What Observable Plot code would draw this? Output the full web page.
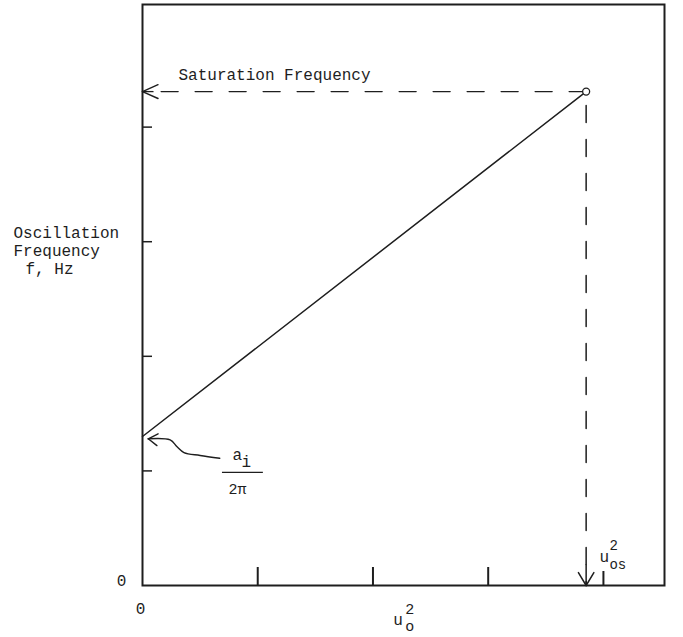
<!DOCTYPE html>
<html>
<head>
<meta charset="utf-8">
<script src="https://cdn.jsdelivr.net/npm/d3@7"></script>
<script src="https://cdn.jsdelivr.net/npm/@observablehq/plot@0.6"></script>
<style>
  html, body { margin: 0; padding: 0; background: #fff; }
  #chart svg { display: block; }
</style>
</head>
<body>
<div id="chart"></div>
<script>
// Oscillation frequency f against u_o^2: linear rise from a_i/2π to the saturation frequency at u_os^2

// axis ticks (unlabelled except for the origin)
const xTicks = [1, 2, 3];
const xTickOs = [4];
const yTicks = [1, 2, 3, 4];

// key values
const uSat = 3.85;     // u_os^2
const fStart = 1.30;   // a_i / 2π
const fSat = 4.31;     // saturation frequency

// the frequency line
const lineU = [0, uSat];
const lineF = [fStart, fSat];

// curved leader from the a_i/2π label to the intercept
const leaderU = [0.05, 0.24, 0.30, 0.36, 0.50, 0.67];
const leaderF = [1.28, 1.27, 1.21, 1.16, 1.135, 1.11];

const xDomain = [0, 4.53];
const yDomain = [0, 5.07];

const ink = "#1e1e1e";
const mono = "'Liberation Mono', 'DejaVu Sans Mono', monospace";

const line = lineU.map((u, i) => ({u, f: lineF[i]}));
const leader = leaderU.map((u, i) => ({u, f: leaderF[i]}));

// a straight stroke drawn from the anchor point; used for arrowhead wings
const wing = {draw(context, l) { context.moveTo(0, 0); context.lineTo(0, -l); }};
function arrowHead(u, f, angles, length, strokeWidth) {
  return Plot.vector(angles.map((a) => ({u, f, a})), {
    x: "u", y: "f", rotate: "a", length, anchor: "start", shape: wing,
    stroke: ink, strokeWidth, strokeLinecap: "round"
  });
}

const chart = Plot.plot({
  width: 683,
  height: 637,
  marginLeft: 142,
  marginRight: 19,
  marginTop: 4,
  marginBottom: 52,
  x: {domain: xDomain},
  y: {domain: yDomain},
  style: {fontFamily: mono, fontSize: "16px", color: ink, background: "#fff"},
  marks: [
    Plot.frame({stroke: ink, strokeWidth: 2}),

    // inward ticks
    Plot.axisX({ticks: xTicks, tickSize: -18, strokeWidth: 2, tickFormat: () => "", label: null}),
    Plot.axisX({ticks: xTickOs, tickSize: -14, strokeWidth: 2, tickFormat: () => "", label: null}),
    Plot.axisY({ticks: yTicks, tickSize: -10, strokeWidth: 1.5, tickFormat: () => "", label: null}),

    // origin labels
    Plot.text(["0"], {x: 0, y: 0, dx: -21, dy: -5, fontSize: 16, fill: ink}),
    Plot.text(["0"], {x: 0, y: 0, dx: -2, dy: 23, fontSize: 16, fill: ink}),

    // saturation level (dashed) with arrow to the frequency axis
    Plot.line([{u: uSat, f: fSat}, {u: 0, f: fSat}], {
      x: "u", y: "f", stroke: ink, strokeWidth: 1.4, strokeDasharray: "17,17"
    }),
    Plot.ruleY([fSat], {x1: 0, x2: 0.1, stroke: ink, strokeWidth: 1.3}),
    arrowHead(0, fSat, [66, 114], 17, 1.4),

    // drop line to u_os^2 (dashed) with arrow to the u axis
    Plot.line([{u: uSat, f: fSat}, {u: uSat, f: 0}], {
      x: "u", y: "f", stroke: ink, strokeWidth: 1.5, strokeDasharray: "17,17", strokeDashoffset: 20
    }),
    Plot.ruleX([uSat], {y1: 0, y2: 0.18, stroke: ink, strokeWidth: 1.5}),
    arrowHead(uSat, 0, [-31, 31], 15, 1.5),

    // frequency line
    Plot.line(line, {x: "u", y: "f", stroke: ink, strokeWidth: 1.5}),
    Plot.dot([{u: uSat, f: fSat}], {x: "u", y: "f", r: 3.5, stroke: ink, strokeWidth: 1.3, fill: "#fff"}),

    // a_i / 2π leader
    Plot.line(leader, {x: "u", y: "f", curve: "catmull-rom", stroke: ink, strokeWidth: 1.4}),
    arrowHead(leaderU[0], leaderF[0], [63, 128], 11, 1.4),
    Plot.text(["a"], {x: 0, y: fStart, dx: 90, dy: 18, textAnchor: "start", fontSize: 16, fill: ink}),
    Plot.text(["i"], {x: 0, y: fStart, dx: 99, dy: 25, textAnchor: "start", fontSize: 16, fill: ink}),
    Plot.ruleY([0.987], {x1: 0.694, x2: 1.049, stroke: ink, strokeWidth: 1.3}),
    Plot.text(["2π"], {x: 0, y: fStart, dx: 86, dy: 53, textAnchor: "start", fontSize: 15, fill: ink}),

    // text labels
    Plot.text(["Saturation Frequency"], {x: 0, y: fSat, dx: 36, dy: -17, textAnchor: "start", fontSize: 16, fill: ink}),
    Plot.text(["Oscillation"], {x: 0, y: 3.074, dx: -129, textAnchor: "start", fontSize: 16, fill: ink}),
    Plot.text(["Frequency"], {x: 0, y: 2.917, dx: -129, textAnchor: "start", fontSize: 16, fill: ink}),
    Plot.text(["f, Hz"], {x: 0, y: 2.76, dx: -117, textAnchor: "start", fontSize: 16, fill: ink}),

    // u axis label u_o^2
    Plot.text(["u"], {x: 2.22, y: 0, dx: -5, dy: 34, textAnchor: "start", fontSize: 16, fill: ink}),
    Plot.text(["2"], {x: 2.22, y: 0, dx: 7, dy: 24, textAnchor: "start", fontSize: 15, fill: ink}),
    Plot.text(["o"], {x: 2.22, y: 0, dx: 7, dy: 41, textAnchor: "start", fontSize: 15, fill: ink}),

    // u_os^2 label
    Plot.text(["u"], {x: 4, y: 0, dx: -4, dy: -29, textAnchor: "start", fontSize: 16, fill: ink}),
    Plot.text(["2"], {x: 4, y: 0, dx: 6, dy: -40, textAnchor: "start", fontSize: 14, fill: ink}),
    Plot.text(["os"], {x: 4, y: 0, dx: 6, dy: -21, textAnchor: "start", fontSize: 14, fill: ink})
  ]
});

document.getElementById("chart").appendChild(chart);
</script>
</body>
</html>
